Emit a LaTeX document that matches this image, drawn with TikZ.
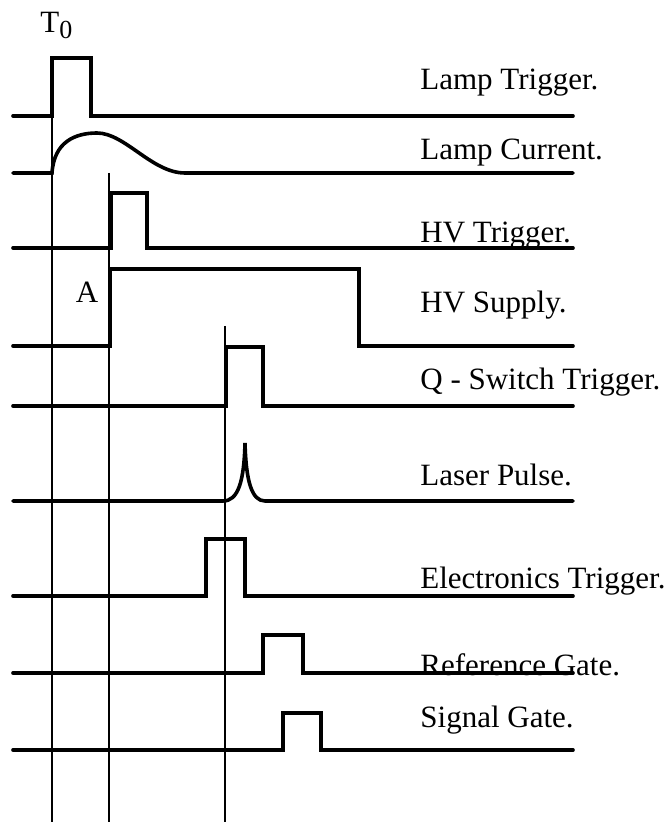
\documentclass[tikz,border=0pt]{standalone}
\usepackage{fontspec}
\setmainfont{Liberation Serif}
\usetikzlibrary{positioning}
\tikzset{
  signal/.style={line width=1.8pt, line cap=round, line join=miter},
  marker/.style={line width=0.8pt},
  note/.style={font=\fontsize{15.5}{18}\selectfont, anchor=base west, inner sep=0pt}
}

\begin{document}
\begin{tikzpicture}[x=0.5pt,y=-0.5pt]
  \useasboundingbox (0,0) rectangle (671,822);
  % time markers
  \draw[marker] (52,116)--(52,822);
  \draw[marker] (109,173)--(109,822);
  \draw[marker] (225,326)--(225,822);
  % rectangular pulses: baseline / rise / fall / top
  \foreach \y/\a/\b/\t in {116/52/91/58, 248/111/147/193, 346/110/359/269, 406/226/263/347, 596/206/245/539, 673/263/303/635, 750/283/321/713}{
    \draw[signal] (13,\y)--(\a,\y)--(\a,\t)--(\b,\t)--(\b,\y)--(573,\y);
  }
  % lamp current
  \draw[signal] (13,173)--(52,173) .. controls (54,142) and (75,133) .. (97,133) .. controls (125,133) and (152,173) .. (185,173)--(573,173);
  % laser pulse
  \draw[signal] (13,501)--(223,501) .. controls (238,501) and (244,482) .. (245,443) .. controls (246,482) and (252,501) .. (265,501)--(573,501);
  % labels
  \node[note] (tzero) at (40,33) {T\raisebox{-0.4ex}{\fontsize{13}{15}\selectfont 0}};
  \node[note, anchor=center] (delayA) at (87,292) {A};
  \node[note] (lamptrig) at (420,90) {Lamp Trigger.};
  \node[note] (lampcur) at (420,160) {Lamp Current.};
  \node[note] (hvtrig) at (420,243) {HV Trigger.};
  \node[note] (hvsup) at (420,313) {HV Supply.};
  \node[note] (qswitch) at (420,390) {Q - Switch Trigger.};
  \node[note] (laser) at (420,485) {Laser Pulse.};
  \node[note] (elec) at (420,588) {Electronics Trigger.};
  \node[note] (refgate) at (420,675) {Reference Gate.};
  \node[note] (siggate) at (420,727) {Signal Gate.};
\end{tikzpicture}
\end{document}
